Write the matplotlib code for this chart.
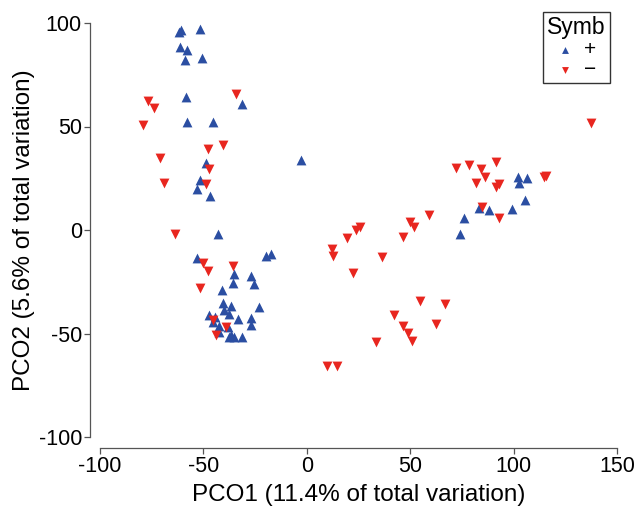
import matplotlib
matplotlib.use("Agg")
import matplotlib.pyplot as plt

plt.rcParams['font.family'] = ['Liberation Sans', 'DejaVu Sans']
plt.rcParams['axes.unicode_minus'] = False

# PCO scores
plus_x = [-61.9, -60.7, -51.6, -61.1, -58.0, -58.7, -50.8, -58.2, -31.1, -58.0, -45.5,
          -48.6, -51.6, -52.9, -46.6, -42.9, -3.0,
          -53.0, -19.9, -17.5, -35.0, -35.6, -26.8, -25.5, -41.0, -40.5, -36.7, -40.0,
          -37.8, -22.9, -47.5, -44.2, -33.2, -27.1, -27.1, -45.5, -42.6, -38.3, -36.7,
          -37.5, -35.1, -31.4, -42.3,
          102.2, 106.4, 102.4, 105.4, 99.0, 88.0, 83.5, 75.8, 73.9]
plus_y = [95.8, 96.6, 97.1, 88.3, 87.1, 82.1, 82.9, 64.4, 61.0, 52.3, 52.0,
          32.5, 24.2, 19.7, 16.3, -1.9, 33.8,
          -13.7, -12.4, -11.8, -21.4, -25.8, -22.2, -26.2, -29.0, -35.4, -36.6, -38.6,
          -40.6, -37.4, -41.2, -42.2, -43.1, -42.7, -45.9, -44.3, -46.4, -47.0, -50.7,
          -51.8, -51.5, -51.5, -49.1,
          25.5, 25.0, 22.6, 14.5, 10.1, 9.7, 10.5, 5.9, -2.1]

minus_x = [-76.8, -73.9, -34.1, -79.2, -47.9, -40.4, -70.8, -47.5, -68.9, -48.7, -63.5,
           -50.3, -47.6, -35.9, -51.6, -45.5, -43.9, -39.1,
           59.1, 49.9, 51.9, 46.3, 25.5, 23.9, 19.4, 12.2, 12.6, 36.2, 22.1, 54.8, 67.0,
           42.3, 46.6, 62.4, 49.0, 51.0, 33.3, 9.8, 14.7,
           72.0, 78.2, 84.3, 86.2, 81.6, 91.5, 92.8, 91.5, 114.8, 115.9, 84.5, 93.1, 137.6]
minus_y = [62.3, 59.1, 65.7, 50.6, 39.1, 40.9, 34.9, 29.6, 22.6, 22.1, -1.9,
           -15.8, -19.8, -17.4, -28.2, -43.5, -50.7, -46.7,
           7.2, 4.0, 1.6, -3.2, 1.3, 0.0, -4.0, -9.3, -12.6, -12.9, -20.9, -34.2, -35.7,
           -41.1, -46.2, -45.4, -49.6, -53.5, -54.3, -65.7, -65.7,
           29.8, 31.4, 29.5, 25.8, 22.6, 33.0, 22.1, 20.6, 25.5, 26.1, 11.3, 5.6, 51.8]

x_ticks = [-100, -50, 0, 50, 100, 150]
y_ticks = [-100, -50, 0, 50, 100]

fig = plt.figure(figsize=(6.35, 5.08), dpi=100)
ax = fig.add_axes([100 / 635, 71 / 508, 517 / 635, 414 / 508])

ax.scatter(plus_x, plus_y, marker='^', s=50, color='#2b4ea2', linewidths=0, label='+', zorder=3)
ax.scatter(minus_x, minus_y, marker='v', s=50, color='#e8261f', linewidths=0, label='\u2212', zorder=3)

ax.set_xlim(-100, 150)
ax.set_ylim(-100, 100)
ax.set_xticks(x_ticks)
ax.set_yticks(y_ticks)

for side in ['top', 'right']:
    ax.spines[side].set_visible(False)
ax.spines['left'].set_position(('outward', 7))
ax.spines['bottom'].set_position(('outward', 8))
for side in ['left', 'bottom']:
    ax.spines[side].set_color('#555555')
    ax.spines[side].set_linewidth(0.9)
ax.tick_params(colors='#555555', labelcolor='black', labelsize=15.5, length=4, width=0.9, pad=2)

ax.set_xlabel('PCO1 (11.4% of total variation)', fontsize=17.5)
ax.set_ylabel('PCO2 (5.6% of total variation)', fontsize=17.5)
ax.xaxis.set_label_coords(0.5, -0.113)
ax.yaxis.set_label_coords(-0.125, 0.5)

leg = ax.legend(title='Symb', loc='upper left', bbox_to_anchor=(543 / 635, 1 - 12 / 508),
                bbox_transform=fig.transFigure, frameon=True, fancybox=False,
                edgecolor='black', fontsize=15, title_fontsize=16.5, handlelength=0.8,
                handletextpad=0.5, borderpad=0.2, labelspacing=0.05, borderaxespad=0,
                markerscale=0.7)
leg.get_frame().set_linewidth(1.0)

fig.savefig('out.png', dpi=100)
